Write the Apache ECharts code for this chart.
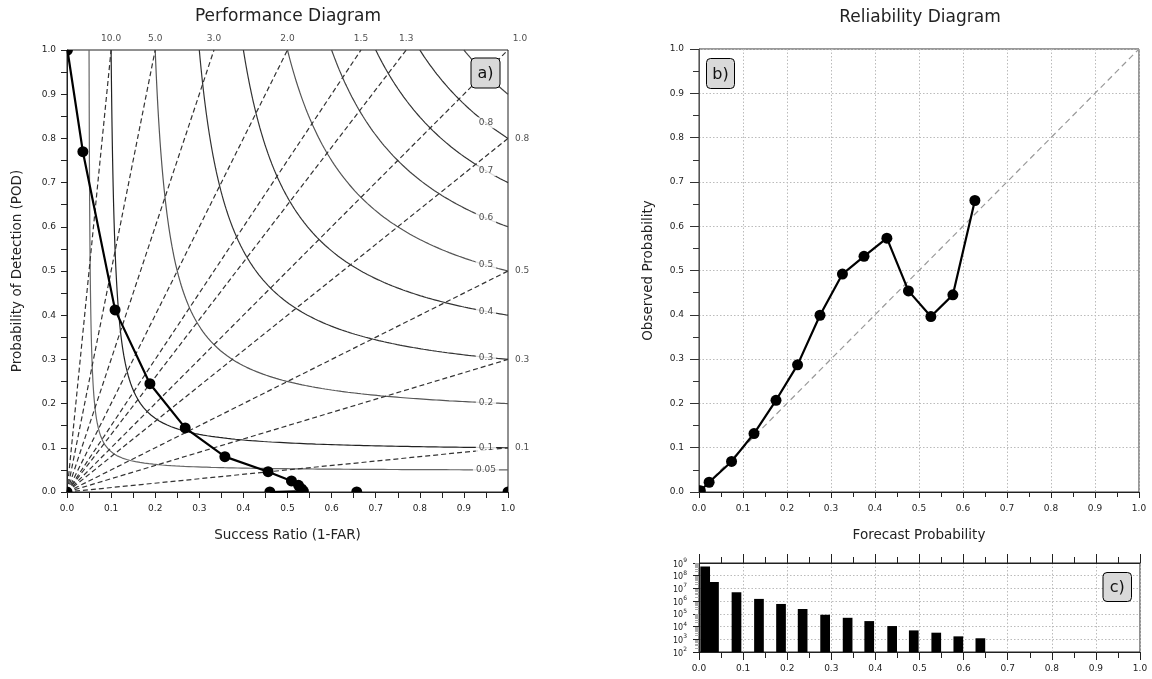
<!DOCTYPE html>
<html>
<head>
<meta charset="utf-8">
<title>Performance and Reliability Diagrams</title>
<script src="https://cdn.jsdelivr.net/npm/echarts@6/dist/echarts.min.js"></script>
<style>
  html, body { margin: 0; padding: 0; background: #fff; }
  #chart { width: 1152px; height: 679px; }
</style>
</head>
<body>
<div id="chart"></div>
<script>
// ---- Performance diagram: success ratio (1-FAR) vs probability of detection ----
const successRatio = [0.001, 0.036, 0.109, 0.188, 0.268, 0.358, 0.456, 0.509, 0.525, 0.532, 0.536, 0.460];
const podValues    = [1.000, 0.770, 0.412, 0.245, 0.145, 0.080, 0.046, 0.025, 0.015, 0.007, 0.002, 0.000];
// thresholds with no detections, drawn as isolated points on the axis
const zeroPodSR    = [0.0, 0.657, 1.0];

// Critical success index isolines and frequency-bias rays
const csiLevels  = [0.05, 0.1, 0.2, 0.3, 0.4, 0.5, 0.6, 0.7, 0.8, 0.9];
const biasLevels = [0.1, 0.3, 0.5, 0.8, 1.0, 1.3, 1.5, 2.0, 3.0, 5.0, 10.0];

// ---- Reliability diagram ----
const forecastProb = [0.003, 0.023, 0.074, 0.125, 0.175, 0.224, 0.275, 0.326, 0.375, 0.427, 0.476, 0.527, 0.577, 0.627];
const observedProb = [0.003, 0.022, 0.069, 0.132, 0.207, 0.287, 0.399, 0.492, 0.532, 0.573, 0.454, 0.396, 0.445, 0.658];

// ---- Forecast frequency histogram (counts per probability bin) ----
const forecastCounts = [5.4e8, 3.2e7, 5.0e6, 1.5e6, 6.0e5, 2.4e5, 8.5e4, 4.9e4, 2.7e4, 1.1e4, 5.0e3, 3.3e3, 1.7e3, 1.2e3];

// Tick labels
const unitTicks = ['0.0', '0.1', '0.2', '0.3', '0.4', '0.5', '0.6', '0.7', '0.8', '0.9', '1.0'];
const histDecades = [2, 3, 4, 5, 6, 7, 8, 9];

const FONT = 'DejaVu Sans';
const INK = '#222';
const CSI_LABEL_SR = 0.95;   // where the CSI labels sit along each isoline
const BAR_WIDTH = 0.022;     // histogram bar width in probability units

// CSI = 1 / (1/SR + 1/POD - 1)  ->  solve for one coordinate given the other
function podForCsi(c, sr) { return 1 / (1 / c + 1 - 1 / sr); }
function csiCurve(c) {
  const pts = [];
  const mid = 2 * c / (1 + c);          // point where SR == POD
  const n = 90;
  for (let i = 0; i <= n; i++) {         // steep branch, stepped along POD
    const pod = 1 - (1 - mid) * i / n;
    pts.push([podForCsi(c, pod), pod]);
  }
  for (let i = 1; i <= n; i++) {         // flat branch, stepped along SR
    const sr = mid + (1 - mid) * i / n;
    pts.push([sr, podForCsi(c, sr)]);
  }
  return pts;
}

const csiColors = ['#666', '#222', '#555', '#333', '#333', '#555', '#444', '#333', '#333', '#444'];

function tickLabel(v) {
  const i = Math.round(v * 10);
  return unitTicks[i] !== undefined ? unitTicks[i] : '';
}

function unitAxis(gridIndex, opts) {
  return Object.assign({
    type: 'value', gridIndex, min: 0, max: 1, interval: 0.1,
    axisLine: { show: true, onZero: false, lineStyle: { color: '#222', width: 1 } },
    axisTick: { show: true, inside: false, length: 6, lineStyle: { color: '#222' } },
    minorTick: { show: true, splitNumber: 2, length: 6, lineStyle: { color: '#222' } },
    axisLabel: { fontSize: 9, color: INK, fontFamily: FONT, margin: 12, formatter: tickLabel },
    splitLine: { show: false },
    nameTextStyle: { fontSize: 13.5, color: INK, fontFamily: FONT }
  }, opts);
}

const dottedGrid = { show: true, lineStyle: { color: '#bbb', type: [1.5, 2], width: 1 } };

// markers drawn through the axes and clipped at the frame
function markerSeries(xi, yi, data) {
  return {
    type: 'custom', coordinateSystem: 'cartesian2d', xAxisIndex: xi, yAxisIndex: yi,
    clip: true, silent: true, z: 6,
    data,
    encode: { x: 0, y: 1 },
    renderItem: function (params, api) {
      const p = api.coord([api.value(0), api.value(1)]);
      return { type: 'circle', shape: { cx: p[0], cy: p[1], r: 5.5 }, style: { fill: '#000' } };
    }
  };
}

const series = [];

// CSI isolines
csiLevels.forEach(function (c, k) {
  series.push({
    type: 'line', xAxisIndex: 0, yAxisIndex: 0, data: csiCurve(c),
    showSymbol: false, silent: true, z: 2, clip: true,
    lineStyle: { color: csiColors[k], width: 1.2 }
  });
});

// frequency-bias rays
biasLevels.forEach(function (b) {
  const end = b >= 1 ? [1 / b, 1] : [1, b];
  series.push({
    type: 'line', xAxisIndex: 0, yAxisIndex: 0, data: [[0, 0], end],
    showSymbol: false, silent: true, z: 2, clip: true,
    lineStyle: { color: '#333', width: 1.2, type: [5, 3] }
  });
});

// CSI labels along the isolines
series.push({
  type: 'scatter', xAxisIndex: 0, yAxisIndex: 0, symbolSize: 0, silent: true, z: 3,
  data: csiLevels.map(function (c) { return { value: [CSI_LABEL_SR, podForCsi(c, CSI_LABEL_SR)], name: String(c) }; }),
  label: {
    show: true, position: 'inside', formatter: '{b}', fontSize: 9, color: INK, fontFamily: FONT,
    backgroundColor: '#fff', padding: [1, 3]
  }
});

// bias labels along the top and right frame
series.push({
  type: 'scatter', xAxisIndex: 0, yAxisIndex: 0, symbolSize: 0, silent: true, z: 3,
  data: biasLevels.map(function (b) {
    const top = b >= 1;
    const item = { value: top ? [1 / b, 1] : [1, b], name: b.toFixed(1) };
    item.label = top ? { position: 'top', distance: 7 } : { position: 'right', distance: 7 };
    if (b === 1) item.label = { position: 'top', distance: 7, offset: [12, 0] };
    return item;
  }),
  label: { show: true, formatter: '{b}', fontSize: 9, color: INK, fontFamily: FONT }
});

// performance curve
const perfPoints = successRatio.map(function (s, i) { return [s, podValues[i]]; });
series.push({
  type: 'line', xAxisIndex: 0, yAxisIndex: 0, data: perfPoints,
  showSymbol: false, silent: true, z: 5, lineStyle: { color: '#000', width: 2.2 }
});
series.push(markerSeries(0, 0, perfPoints.concat(zeroPodSR.map(function (s) { return [s, 0]; }))));

// reliability diagram
series.push({
  type: 'line', xAxisIndex: 1, yAxisIndex: 1, data: [[0, 0], [1, 1]],
  showSymbol: false, silent: true, z: 2,
  lineStyle: { color: '#999', width: 1.2, type: [6, 4] }
});
const relPoints = forecastProb.map(function (f, i) { return [f, observedProb[i]]; });
series.push({
  type: 'line', xAxisIndex: 1, yAxisIndex: 1, data: relPoints,
  showSymbol: false, silent: true, z: 5, lineStyle: { color: '#000', width: 2.2 }
});
series.push(markerSeries(1, 1, relPoints));

// histogram of forecast counts (log scale)
const HIST_MIN = Math.pow(10, histDecades[0]);
const HIST_MAX = Math.pow(10, histDecades[histDecades.length - 1]);
series.push({
  type: 'custom', coordinateSystem: 'cartesian2d', xAxisIndex: 2, yAxisIndex: 2,
  clip: true, silent: true, z: 4,
  data: forecastProb.map(function (f, i) { return [f, forecastCounts[i]]; }),
  encode: { x: 0, y: 1 },
  renderItem: function (params, api) {
    const a = api.coord([api.value(0), api.value(1)]);
    const b = api.coord([api.value(0) + BAR_WIDTH, HIST_MIN]);
    return { type: 'rect', shape: { x: a[0], y: a[1], width: b[0] - a[0], height: b[1] - a[1] }, style: { fill: '#000' } };
  }
});

function panelTag(text, x, y, w, h) {
  return {
    type: 'group', z: 100,
    children: [
      { type: 'rect', z: 100, shape: { x: x, y: y, width: w, height: h, r: 4 },
        style: { fill: '#d9d9d9', stroke: '#000', lineWidth: 1 } },
      { type: 'text', z: 101, x: x + w / 2, y: y + h / 2 + 1,
        style: { text: text, fontSize: 16, fontFamily: FONT, fill: '#111', align: 'center', verticalAlign: 'middle' } }
    ]
  };
}

const option = {
  animation: false,
  backgroundColor: '#fff',
  textStyle: { fontFamily: FONT },
  grid: [
    { left: 67, top: 50, width: 441, height: 442, show: true, borderColor: '#222', borderWidth: 1 },
    { left: 699, top: 49, width: 440, height: 443, show: true, borderColor: '#333', borderWidth: 1 },
    { left: 699, top: 563, width: 441, height: 89, show: true, borderColor: '#222', borderWidth: 1 }
  ],
  xAxis: [
    unitAxis(0, { name: 'Success Ratio (1-FAR)', nameLocation: 'middle', nameGap: 36 }),
    unitAxis(1, {
      name: 'Forecast Probability', nameLocation: 'middle', nameGap: 36,
      splitLine: dottedGrid,
      axisTick: { show: true, inside: false, length: 6, lineStyle: { color: '#222' } },
      minorTick: { show: true, splitNumber: 2, length: 5, lineStyle: { color: '#222' } }
    }),
    unitAxis(2, {
      splitLine: dottedGrid,
      axisTick: { show: true, inside: false, length: 8, lineStyle: { color: '#222' } },
      minorTick: { show: true, splitNumber: 2, length: 6, lineStyle: { color: '#222' } }
    }),
    unitAxis(2, {
      position: 'top',
      axisLabel: { show: false },
      axisTick: { show: true, inside: false, length: 9, lineStyle: { color: '#222' } },
      minorTick: { show: true, splitNumber: 2, length: 6, lineStyle: { color: '#222' } }
    })
  ],
  yAxis: [
    unitAxis(0, { name: 'Probability of Detection (POD)', nameLocation: 'middle', nameGap: 43, axisLabel: { fontSize: 9, color: INK, fontFamily: FONT, margin: 11, formatter: tickLabel } }),
    unitAxis(1, {
      name: 'Observed Probability', nameLocation: 'middle', nameGap: 44,
      splitLine: dottedGrid,
      axisLabel: { fontSize: 9, color: INK, fontFamily: FONT, margin: 15, formatter: tickLabel },
      axisTick: { show: true, inside: false, length: 9, lineStyle: { color: '#333' } },
      minorTick: { show: true, splitNumber: 2, length: 6, lineStyle: { color: '#333' } },
      axisLine: { show: true, onZero: false, lineStyle: { color: '#555', width: 1 } }
    }),
    {
      type: 'log', logBase: 10, gridIndex: 2, min: HIST_MIN, max: HIST_MAX, splitNumber: histDecades.length - 1,
      axisLine: { show: true, onZero: false, lineStyle: { color: '#222', width: 1 } },
      axisTick: { show: true, inside: false, length: 6, lineStyle: { color: '#222' } },
      minorTick: { show: true, splitNumber: 8, length: 4, lineStyle: { color: '#aaa' } },
      splitLine: dottedGrid,
      axisLabel: {
        margin: 12, color: INK, fontFamily: FONT,
        formatter: function (v) {
          const e = Math.round(Math.log10(v));
          return '{b|10}{s|' + e + '}';
        },
        rich: {
          b: { fontSize: 8, color: INK, fontFamily: FONT, lineHeight: 11, verticalAlign: 'bottom' },
          s: { fontSize: 6, color: INK, fontFamily: FONT, lineHeight: 11, verticalAlign: 'top' }
        }
      }
    }
  ],
  graphic: [
    { type: 'text', z: 100, x: 288, y: 17, style: { text: 'Performance Diagram', fontSize: 17, fontFamily: FONT, fill: INK, align: 'center', verticalAlign: 'middle' } },
    { type: 'text', z: 100, x: 920, y: 18, style: { text: 'Reliability Diagram', fontSize: 17, fontFamily: FONT, fill: INK, align: 'center', verticalAlign: 'middle' } },
    panelTag('a)', 471, 58, 29, 30),
    panelTag('b)', 706.5, 58.5, 28, 30),
    panelTag('c)', 1103, 572.5, 28.5, 29)
  ],
  series: series
};

const chart = echarts.init(document.getElementById('chart'), null, { renderer: 'canvas' });
chart.setOption(option);
</script>
</body>
</html>
